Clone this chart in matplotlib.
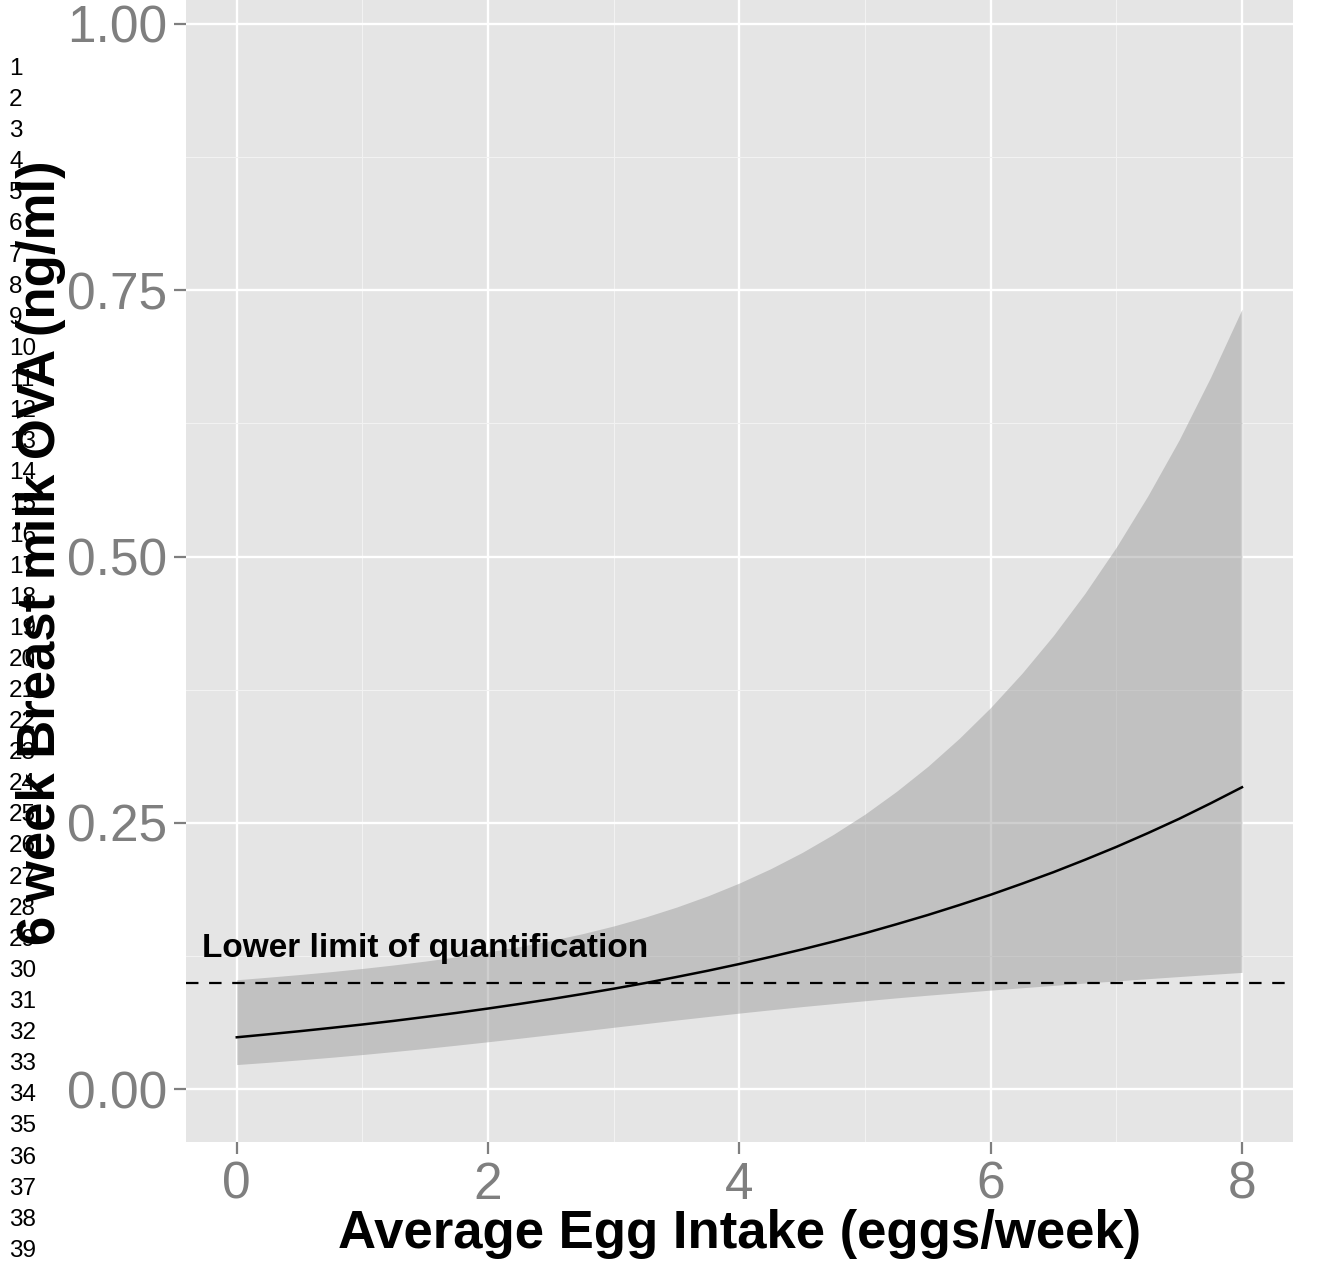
import matplotlib
matplotlib.use('Agg')
import matplotlib.pyplot as plt

plt.rcParams['font.family'] = ['Liberation Sans', 'DejaVu Sans']

# values
egg_intake = [0, 0.25, 0.5, 0.75, 1, 1.25, 1.5, 1.75, 2, 2.25, 2.5, 2.75, 3, 3.25, 3.5, 3.75,
              4, 4.25, 4.5, 4.75, 5, 5.25, 5.5, 5.75, 6, 6.25, 6.5, 6.75, 7, 7.25, 7.5, 7.75, 8]
ova_fit = [0.0488, 0.0516, 0.0545, 0.0576, 0.0608, 0.0642, 0.0679, 0.0717, 0.0758,
           0.0801, 0.0846, 0.0894, 0.0944, 0.0997, 0.1054, 0.1113, 0.1176, 0.1243,
           0.1313, 0.1387, 0.1465, 0.1549, 0.1636, 0.1729, 0.1826, 0.1930, 0.2038,
           0.2154, 0.2275, 0.2404, 0.2539, 0.2684, 0.2835]
ova_lower = [0.0232, 0.0253, 0.0276, 0.0300, 0.0326, 0.0354, 0.0383, 0.0414, 0.0446,
             0.0479, 0.0513, 0.0547, 0.0582, 0.0616, 0.0650, 0.0683, 0.0715, 0.0746,
             0.0776, 0.0804, 0.0831, 0.0858, 0.0883, 0.0907, 0.0931, 0.0953, 0.0975,
             0.0997, 0.1017, 0.1038, 0.1058, 0.1078, 0.1097]
ova_upper = [0.1028, 0.1052, 0.1077, 0.1104, 0.1134, 0.1167, 0.1203, 0.1243, 0.1289,
             0.1339, 0.1396, 0.1460, 0.1533, 0.1616, 0.1710, 0.1816, 0.1936, 0.2071,
             0.2223, 0.2394, 0.2583, 0.2796, 0.3031, 0.3294, 0.3584, 0.3906, 0.4261,
             0.4655, 0.5089, 0.5569, 0.6096, 0.6683, 0.7323]
lloq = 0.1
lloq_label = 'Lower limit of quantification'

x_ticks = [0, 2, 4, 6, 8]
x_minor = [1, 3, 5, 7]
y_ticks = [0.0, 0.25, 0.5, 0.75, 1.0]
y_tick_labels = ['0.00', '0.25', '0.50', '0.75', '1.00']
y_minor = [0.125, 0.375, 0.625, 0.875]
line_numbers = list(range(1, 40))

W, H = 1317, 1263
fig = plt.figure(figsize=(W / 100, H / 100), dpi=100)
ax = fig.add_axes([186 / W, 1 - 1142 / H, (1293 - 186) / W, 1142 / H])
ax.set_facecolor('#e5e5e5')
for s in ax.spines.values():
    s.set_visible(False)

ax.set_xlim(-0.404, 8.406)
ax.set_ylim(-0.0495, 1.0225)
ax.set_xticks(x_ticks)
ax.set_xticks(x_minor, minor=True)
ax.set_yticks(y_ticks)
ax.set_yticklabels(y_tick_labels)
ax.set_yticks(y_minor, minor=True)
ax.set_axisbelow(True)
ax.grid(which='major', color='white', linewidth=1.7)
ax.grid(which='minor', color='#f2f2f2', linewidth=0.8)
ax.tick_params(which='major', length=8.5, width=1.6, color='#7f7f7f',
               labelcolor='#7f7f7f', labelsize=37, pad=5)
ax.tick_params(which='minor', length=0)

# confidence band, fitted curve and LLOQ
ax.fill_between(egg_intake, ova_lower, ova_upper, color='#999999', alpha=0.47, linewidth=0)
ax.plot(egg_intake, ova_fit, color='black', linewidth=1.8)
ax.axhline(lloq, color='black', linewidth=1.6, linestyle=(0, (5.6, 4.8)))
ax.text(1.5, 0.124, lloq_label, ha='center', va='baseline', fontsize=24,
        fontweight='bold', color='black')

ax.set_xlabel('Average Egg Intake (eggs/week)', fontsize=38, fontweight='bold',
              va='baseline')
ax.xaxis.set_label_coords(0.5, -0.0928)
ax.set_ylabel('6 week Breast milk OVA (ng/ml)', fontsize=38, fontweight='bold',
              va='baseline')
ax.yaxis.set_label_coords(-0.1183, 0.516)

# manuscript line numbers down the left margin
for i, n in enumerate(line_numbers):
    fig.text(9 / W, 1 - (69 + i * 31.1) / H, str(n), fontsize=17.5,
             ha='left', va='center', color='black')

fig.savefig('out.png', dpi=100)
